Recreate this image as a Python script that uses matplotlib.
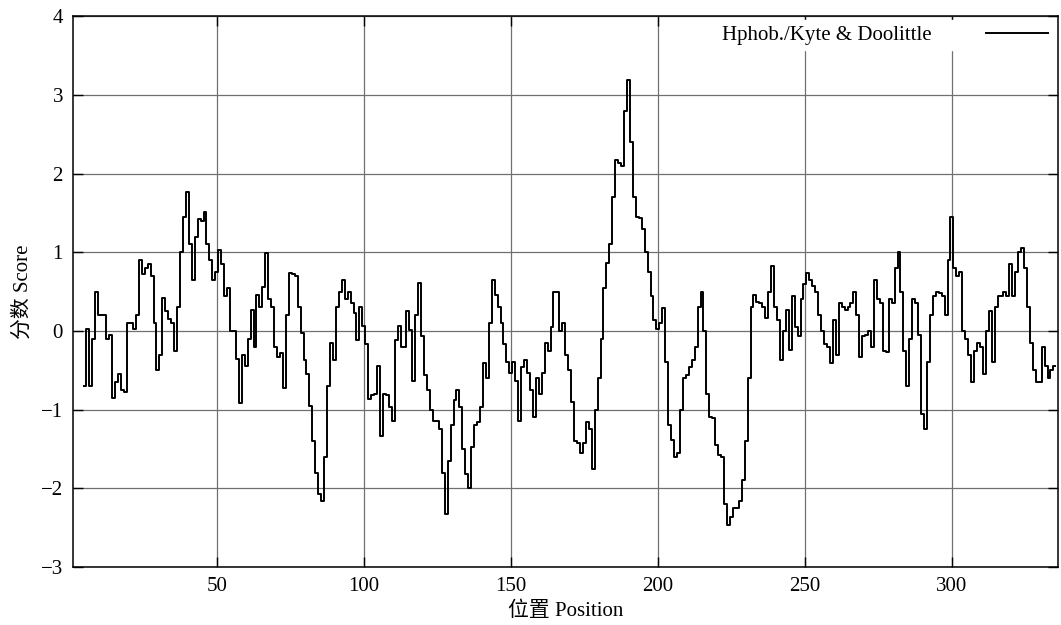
import matplotlib
matplotlib.use("Agg")
import matplotlib.pyplot as plt

# Kyte & Doolittle hydrophobicity score, one value per residue position (5..335)
start_position = 5
scores = [
    -0.70, 0.03, -0.70, -0.10, 0.50, 0.20, 0.20, 0.20, -0.10, -0.05,   # 5-14
    -0.85, -0.65, -0.55, -0.75, -0.78, 0.10, 0.10, 0.03, 0.20, 0.90,   # 15-24
    0.72, 0.80, 0.85, 0.70, 0.10, -0.50, -0.30, 0.42, 0.25, 0.15,      # 25-34
    0.10, -0.25, 0.30, 1.00, 1.45, 1.77, 1.10, 0.65, 1.20, 1.42,       # 35-44
    1.40, 1.51, 1.10, 0.90, 0.65, 0.75, 1.03, 0.85, 0.45, 0.55,        # 45-54
    0.00, 0.00, -0.35, -0.92, -0.30, -0.45, -0.10, 0.27, -0.20, 0.46,  # 55-64
    0.30, 0.56, 0.99, 0.40, 0.31, -0.20, -0.33, -0.28, -0.73, 0.20,    # 65-74
    0.74, 0.72, 0.70, 0.30, -0.03, -0.37, -0.55, -0.95, -1.40, -1.80,  # 75-84
    -2.07, -2.16, -1.60, -0.70, -0.15, -0.37, 0.31, 0.50, 0.65, 0.40,  # 85-94
    0.50, 0.35, 0.23, -0.11, 0.30, 0.06, -0.16, -0.86, -0.82, -0.80,   # 95-104
    -0.45, -1.33, -0.80, -0.82, -0.97, -1.14, -0.11, 0.06, -0.20, -0.20,  # 105-114
    0.25, 0.01, -0.63, 0.20, 0.61, -0.07, -0.56, -0.75, -1.00, -1.14,  # 115-124
    -1.14, -1.25, -1.80, -2.33, -1.65, -1.20, -0.88, -0.75, -0.97, -1.50,  # 125-134
    -1.82, -1.99, -1.48, -1.20, -1.16, -0.97, -0.41, -0.60, 0.10, 0.65,  # 135-144
    0.46, 0.31, 0.10, -0.16, -0.40, -0.54, -0.40, -0.63, -1.14, -0.46,  # 145-154
    -0.37, -0.54, -0.75, -1.09, -0.60, -0.80, -0.54, -0.15, -0.25, 0.05,  # 155-164
    0.50, 0.50, 0.00, 0.10, -0.30, -0.50, -0.90, -1.40, -1.43, -1.55,  # 165-174
    -1.43, -1.16, -1.25, -1.75, -1.00, -0.60, -0.10, 0.55, 0.86, 1.10,  # 175-184
    1.70, 2.17, 2.13, 2.10, 2.80, 3.19, 2.40, 1.70, 1.45, 1.43,        # 185-194
    1.30, 1.00, 0.75, 0.45, 0.14, 0.03, 0.10, 0.29, -0.40, -1.20,      # 195-204
    -1.39, -1.60, -1.55, -1.00, -0.60, -0.56, -0.46, -0.37, -0.20, 0.30,  # 205-214
    0.50, 0.00, -0.80, -1.09, -1.10, -1.45, -1.58, -1.60, -2.20, -2.46,  # 215-224
    -2.37, -2.25, -2.25, -2.16, -1.90, -1.40, -0.60, 0.30, 0.46, 0.37,  # 225-234
    0.35, 0.30, 0.16, 0.50, 0.82, 0.31, 0.14, -0.37, 0.00, 0.27,       # 235-244
    -0.24, 0.44, 0.05, -0.07, 0.40, 0.60, 0.74, 0.65, 0.57, 0.50,      # 245-254
    0.20, 0.00, -0.16, -0.20, -0.41, 0.14, -0.30, 0.35, 0.30, 0.27,    # 255-264
    0.30, 0.35, 0.50, 0.20, -0.33, -0.07, -0.05, 0.00, -0.20, 0.65,    # 265-274
    0.40, 0.35, -0.25, -0.27, 0.40, 0.35, 0.80, 1.00, 0.50, -0.25,     # 275-284
    -0.70, -0.10, 0.40, 0.35, -0.05, -1.05, -1.25, -0.40, 0.20, 0.45,  # 285-294
    0.50, 0.48, 0.45, 0.20, 0.90, 1.45, 0.80, 0.70, 0.75, 0.00,        # 295-304
    -0.10, -0.30, -0.65, -0.25, -0.15, -0.20, -0.55, 0.00, 0.25, -0.40,  # 305-314
    0.30, 0.45, 0.45, 0.50, 0.45, 0.85, 0.45, 0.75, 1.00, 1.05,        # 315-324
    0.80, 0.30, -0.15, -0.50, -0.65, -0.65, -0.20, -0.45, -0.60, -0.50,  # 325-334
    -0.45,                                                              # 335
]
positions = list(range(start_position, start_position + len(scores)))

x_ticks = [50, 100, 150, 200, 250, 300]
y_ticks = [-3, -2, -1, 0, 1, 2, 3, 4]
series_label = "Hphob./Kyte & Doolittle"
x_label = "位置 Position"
y_label = "分数 Score"

plt.rcParams['font.family'] = ['Liberation Serif', 'Noto Sans CJK SC', 'DejaVu Sans']
plt.rcParams['axes.unicode_minus'] = True

fig = plt.figure(figsize=(10.61, 6.25), dpi=100)
ax = fig.add_axes([0.0685, 0.0928, 0.9285, 0.8812])

ax.plot(positions, scores, color='black', linewidth=1.4, drawstyle='steps-mid',
        label=series_label)

ax.set_xlim(1, 336)
ax.set_ylim(-3, 4)
ax.set_xticks(x_ticks)
ax.set_yticks(y_ticks)
ax.grid(True, color='#707070', linewidth=0.9)
ax.set_axisbelow(True)
ax.tick_params(direction='in', top=True, right=True, length=7, width=1.0,
               labelsize=15, pad=7)
for s in ax.spines.values():
    s.set_linewidth(1.1)
    s.set_color('black')

ax.set_xlabel(x_label, fontsize=15, labelpad=4)
ax.set_ylabel(y_label, fontsize=15, labelpad=6)

leg = ax.legend(loc='upper right', frameon=True, fancybox=False, framealpha=1.0,
                edgecolor='white', facecolor='white', markerfirst=False,
                fontsize=15, handlelength=3.0, borderaxespad=0.2,
                borderpad=0.25, handletextpad=2.6)

fig.savefig("out.png", dpi=100)
